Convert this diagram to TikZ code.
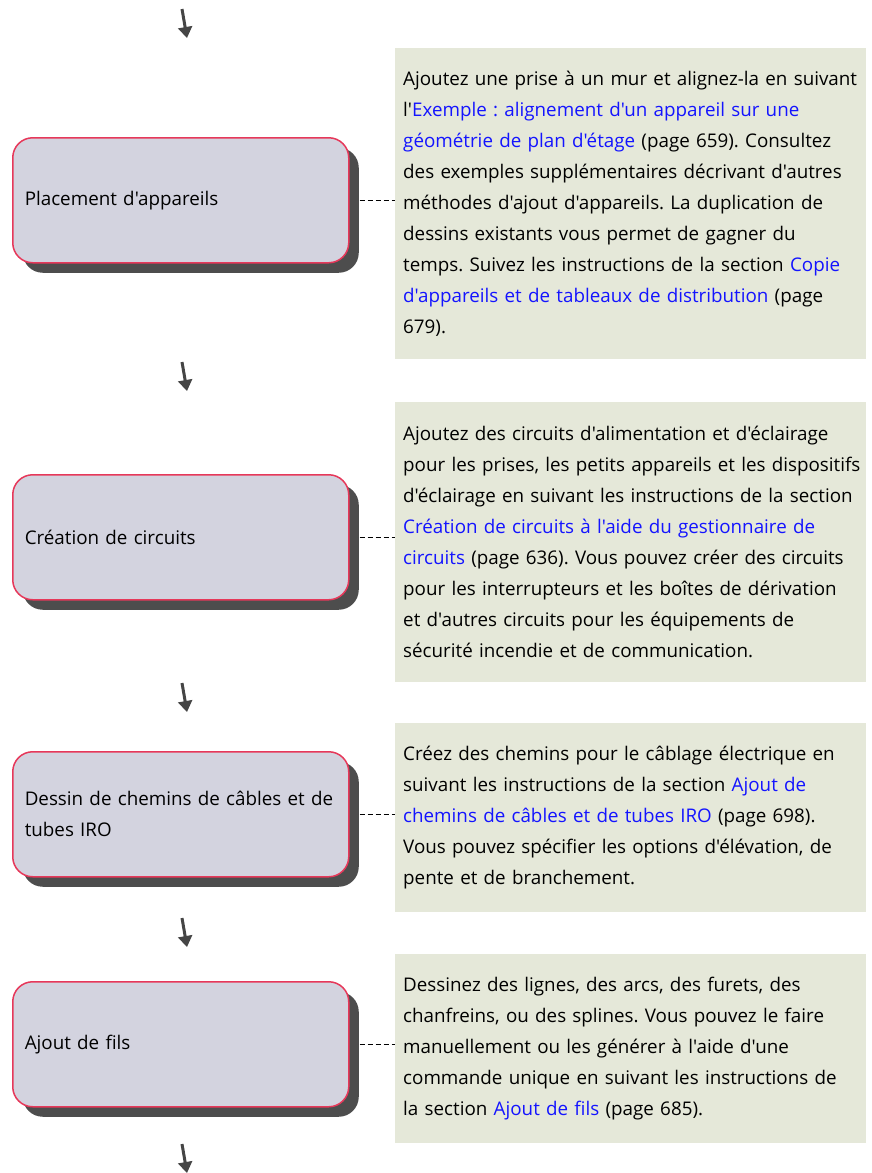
\documentclass[tikz,border=0pt]{standalone}
\usepackage{fontspec}
\setmainfont{Open Sans}[Ligatures=TeXOff]
\usetikzlibrary{arrows.meta,shadows}

\definecolor{taskfill}{HTML}{D3D3DF}
\definecolor{taskline}{HTML}{E6385A}
\definecolor{shadowgray}{HTML}{4D4D4D}
\definecolor{notefill}{HTML}{E5E8D9}
\definecolor{linkblue}{HTML}{1414FF}
\definecolor{arrowgray}{HTML}{454545}

\tikzset{
  taskbox/.style={draw=taskline, line width=1.5pt, fill=taskfill, rounded corners=20pt,
    minimum width=336pt, minimum height=125pt, text width=312pt, inner xsep=12pt,
    align=left, anchor=north west,
    drop shadow={shadow xshift=10pt, shadow yshift=-10pt, fill=shadowgray, opacity=1}},
  notebox/.style={fill=notefill, text width=455pt, inner xsep=8pt, align=left, anchor=north west},
  flow/.style={-{Triangle[width=14pt,length=11pt]}, line width=3pt, draw=arrowgray},
  hook/.style={dash pattern=on 5pt off 3pt, line width=1.3pt}
}
\newcommand{\lnk}[1]{\textcolor{linkblue}{#1}}
\frenchspacing

\begin{document}
\begin{tikzpicture}[x=1pt,y=-1pt,font=\fontsize{18.8}{31}\selectfont]
\useasboundingbox (0,0) rectangle (871,1173);

% steps
\node[taskbox] (b1) at (12,137) {Placement d'appareils};
\node[taskbox] (b2) at (12,474) {Création de circuits};
\node[taskbox] (b3) at (12,751) {Dessin de chemins de câbles et de\\tubes IRO};
\node[taskbox] (b4) at (12,981) {Ajout de fils};

% notes
\node[notebox, minimum height=311pt] (t1) at (395,48) {Ajoutez une prise à un mur et alignez-la en suivant\\
l'\lnk{Exemple : alignement d'un appareil sur une}\\
\lnk{géométrie de plan d'étage} (page 659). Consultez\\
des exemples supplémentaires décrivant d'autres\\
méthodes d'ajout d'appareils. La duplication de\\
dessins existants vous permet de gagner du\\
temps. Suivez les instructions de la section \lnk{Copie}\\
\lnk{d'appareils et de tableaux de distribution} (page\\
679).};
\node[notebox, minimum height=280pt] (t2) at (395,402) {Ajoutez des circuits d'alimentation et d'éclairage\\
\mbox{pour les prises, les petits appareils et les dispositifs}\\
d'éclairage en suivant les instructions de la section\\
\lnk{Création de circuits à l'aide du gestionnaire de}\\
\lnk{circuits} (page 636). Vous pouvez créer des circuits\\
pour les interrupteurs et les boîtes de dérivation\\
et d'autres circuits pour les équipements de\\
sécurité incendie et de communication.};
\node[notebox, minimum height=189pt] (t3) at (395,723) {Créez des chemins pour le câblage électrique en\\
suivant les instructions de la section \lnk{Ajout de}\\
\lnk{chemins de câbles et de tubes IRO} (page 698).\\
Vous pouvez spécifier les options d'élévation, de\\
pente et de branchement.};
\node[notebox, minimum height=189pt] (t4) at (395,954) {Dessinez des lignes, des arcs, des furets, des\\
chanfreins, ou des splines. Vous pouvez le faire\\
manuellement ou les générer à l'aide d'une\\
commande unique en suivant les instructions de\\
la section \lnk{Ajout de fils} (page 685).};

% links between steps and notes
\foreach \i in {1,2,3,4}
  \draw[hook] ([xshift=10pt]b\i.east) -- (b\i.east -| t\i.west);

% flow arrows
\foreach \y [count=\i] in {9,362,683,918,1144} {
  \coordinate (f\i a) at (182,\y);
  \coordinate (f\i b) at (187,\y+29);
  \draw[flow] (f\i a) -- (f\i b);
}
\end{tikzpicture}
\end{document}
